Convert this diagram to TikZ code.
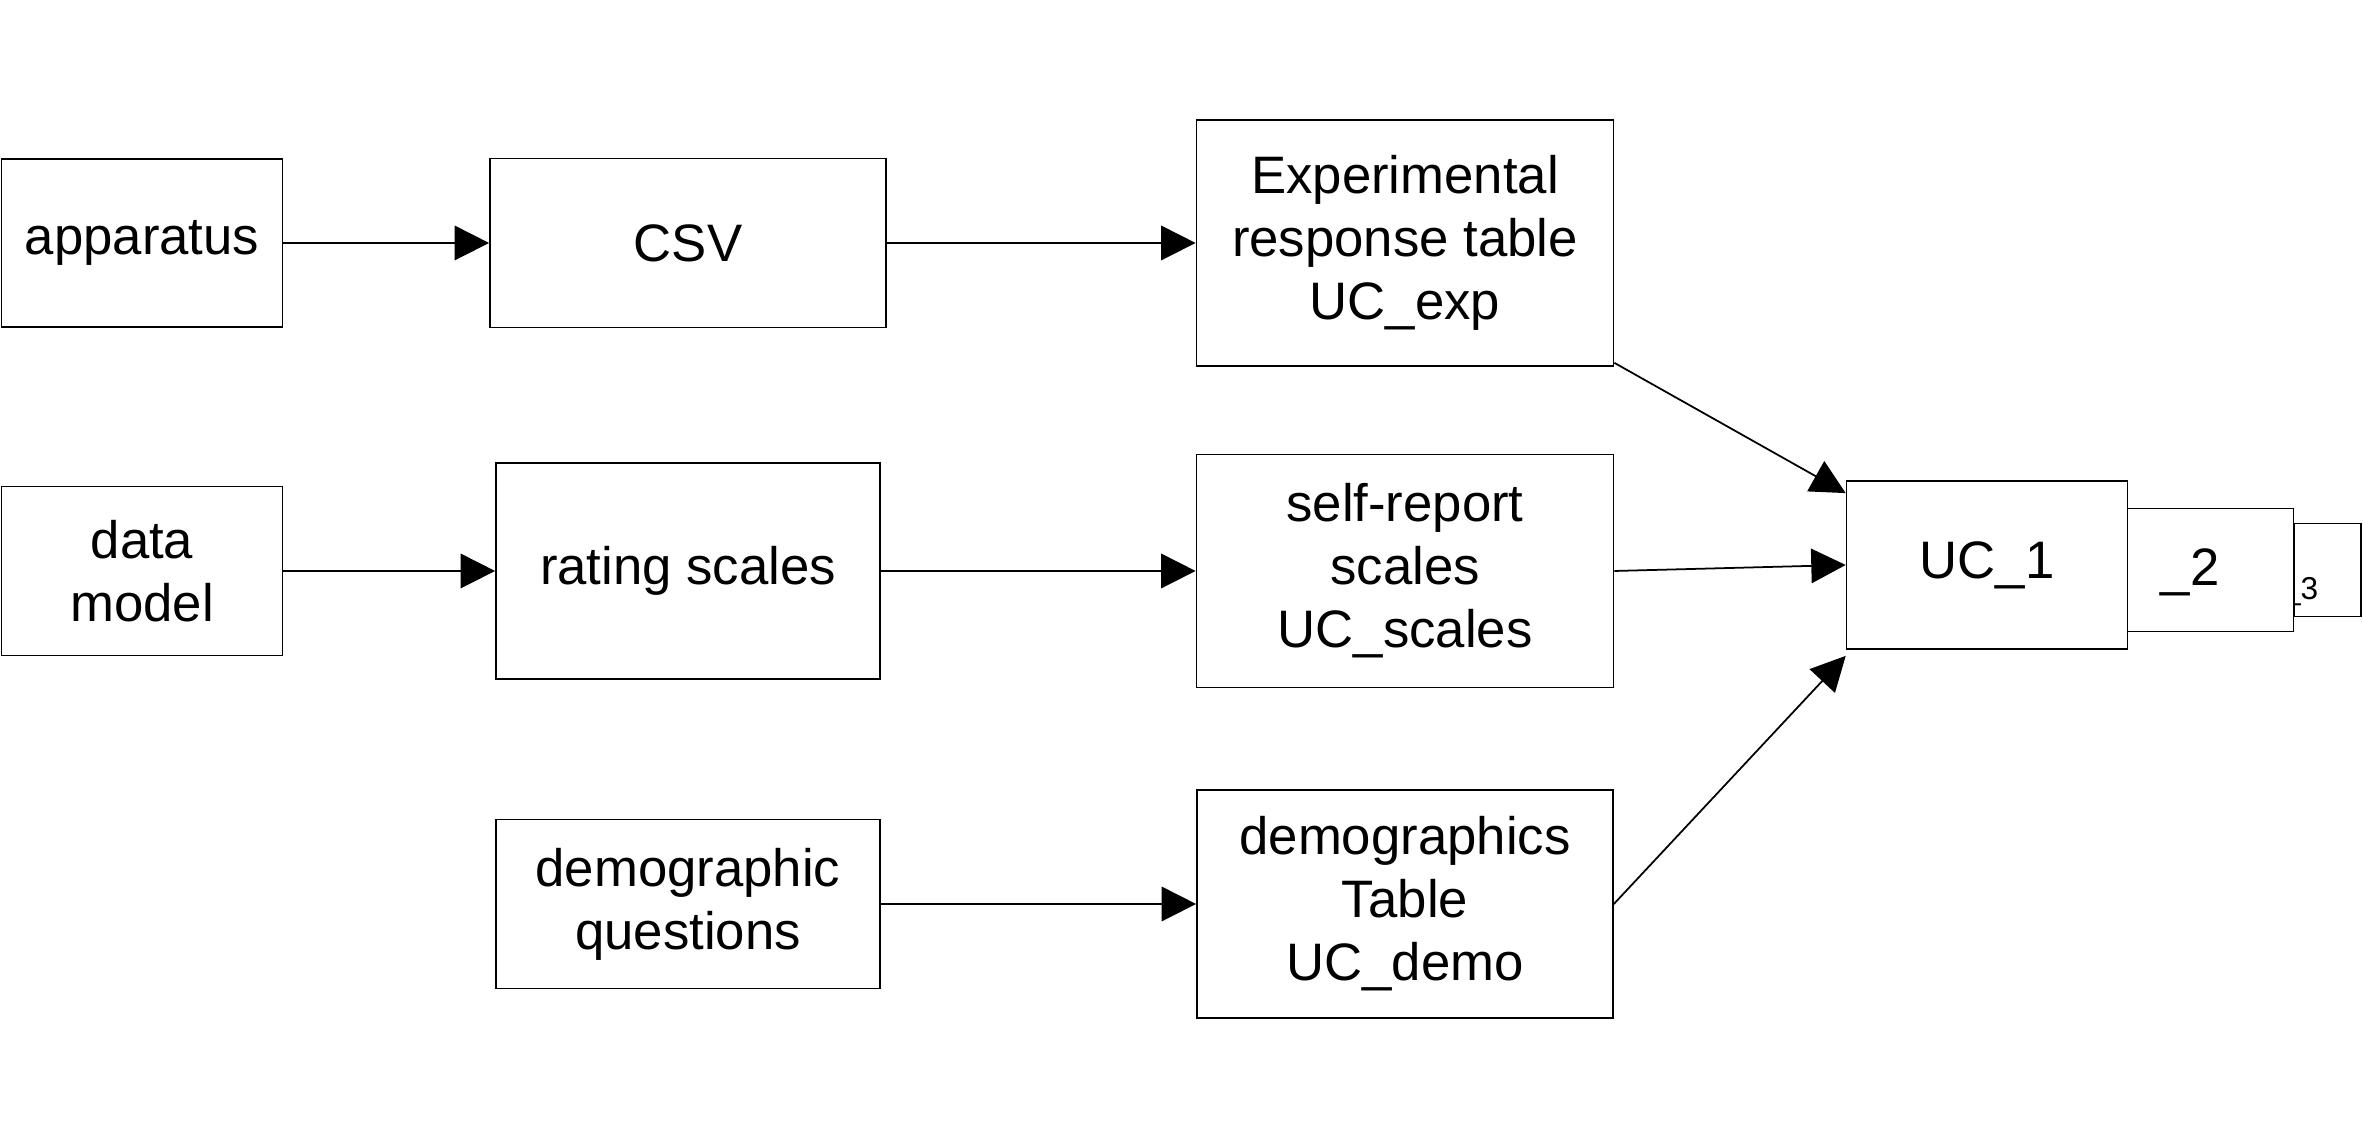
\documentclass[tikz,border=0pt]{standalone}
\usepackage{fontspec}
\setmainfont{Liberation Sans}
\usetikzlibrary{arrows.meta,calc}

\tikzset{
  box/.style={draw, line width=0.5pt, fill=white, align=center, inner sep=0pt,
    font=\fontsize{15}{17.9}\selectfont},
  flow/.style={line width=0.5pt, -{Triangle[length=9.8pt,width=9.8pt]}}
}

\begin{document}
\begin{tikzpicture}
\useasboundingbox (0,0) rectangle (23.63,11.38);

\node[box, minimum width=2.81cm, minimum height=1.68cm] (app) at (1.42,8.95) {apparatus};
\node[box, minimum width=3.96cm, minimum height=1.69cm] (csv) at (6.88,8.95) {CSV};
\node[box, minimum width=4.17cm, minimum height=2.46cm] (exp) at (14.05,8.95) {Experimental\\response table\\UC\_exp};

\node[box, minimum width=2.81cm, minimum height=1.69cm] (model) at (1.42,5.67) {data\\model};
\node[box, minimum width=3.84cm, minimum height=2.16cm] (rating) at (6.88,5.67) {rating scales};
\node[box, minimum width=4.17cm, minimum height=2.33cm] (selfrep) at (14.05,5.67) {self-report\\scales\\UC\_scales};

\node[box, minimum width=3.84cm, minimum height=1.69cm] (demq) at (6.88,2.34) {demographic\\questions};
\node[box, minimum width=4.16cm, minimum height=2.28cm] (demtab) at (14.05,2.34) {demographics\\Table\\UC\_demo};

\node[box, minimum width=0.67cm, minimum height=0.93cm] (ucC) at (23.275,5.68) {};
\node[anchor=base west, inner sep=0pt, font=\fontsize{9}{10}\selectfont] (lblC) at (22.824,5.38) {\_3};
\node[box, minimum width=1.66cm, minimum height=1.23cm] (ucB) at (22.106,5.68) {};
\node[anchor=base west, inner sep=0pt, font=\fontsize{15}{17.9}\selectfont] (lblB) at (21.60,5.52) {\_2};
\node[box, minimum width=2.81cm, minimum height=1.68cm] (ucA) at (19.871,5.73) {UC\_1};

\draw[flow] (app) -- (csv);
\draw[flow] (csv) -- (exp);
\draw[flow] (model) -- (rating);
\draw[flow] (rating) -- (selfrep);
\draw[flow] (demq) -- (demtab);

\draw[flow] ($(exp.south east)+(0,0.04)$) -- ($(ucA.north west)+(0,-0.13)$);
\draw[flow] (selfrep.east) -- (ucA.west);
\draw[flow] (demtab.east) -- ($(ucA.south west)+(0,-0.06)$);
\end{tikzpicture}
\end{document}
